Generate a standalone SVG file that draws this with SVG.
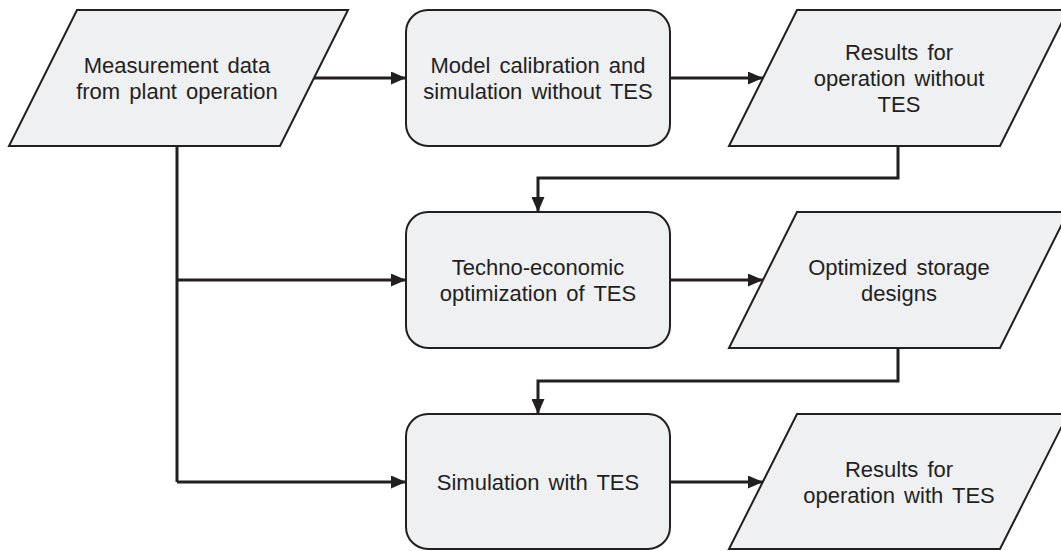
<svg xmlns="http://www.w3.org/2000/svg" width="1061" height="551" viewBox="0 0 1061 551">
<style>
.shape{fill:#eff0f2;stroke:#231f20;stroke-width:2}
.lbl{font-family:"Liberation Sans",Arial,sans-serif;font-size:22px;word-spacing:3px;fill:#231f20;text-anchor:middle}
.conn{fill:none;stroke:#231f20;stroke-width:3;marker-end:url(#arr)}
.trunk{fill:none;stroke:#231f20;stroke-width:3}
</style>
<defs>
<marker id="arr" markerUnits="userSpaceOnUse" markerWidth="15" markerHeight="13" refX="15" refY="6.5" orient="auto">
<path d="M0,0 L15,6.5 L0,13 z" fill="#231f20"/>
</marker>
</defs>
<rect width="1061" height="551" fill="#ffffff"/>
<g id="connectors">
<path class="conn" d="M313,78 H406"/>
<path class="conn" d="M670,78 H763"/>
<path class="trunk" d="M177,146 V482"/>
<path class="conn" d="M177,280 H406"/>
<path class="conn" d="M177,482 H406"/>
<path class="conn" d="M670,280 H763"/>
<path class="conn" d="M670,482 H763"/>
<path class="conn" d="M898,146 V178 H538 V212"/>
<path class="conn" d="M898,348 V381 H538 V414"/>
</g>
<g id="measurement">
<polygon class="shape" points="77,10 348,10 280,146 9,146"/>
<text class="lbl" x="177" y="73">Measurement data</text>
<text class="lbl" x="177" y="99">from plant operation</text>
</g>
<g id="calibration">
<rect class="shape" x="406" y="10" width="264" height="136" rx="22" ry="22"/>
<text class="lbl" x="538" y="73">Model calibration and</text>
<text class="lbl" x="538" y="99">simulation without TES</text>
</g>
<g id="results-without">
<polygon class="shape" points="797,10 1068,10 1000,146 729,146"/>
<text class="lbl" x="899" y="60">Results for</text>
<text class="lbl" x="899" y="86">operation without</text>
<text class="lbl" x="899" y="112">TES</text>
</g>
<g id="optimization">
<rect class="shape" x="406" y="212" width="264" height="136" rx="22" ry="22"/>
<text class="lbl" x="538" y="275">Techno-economic</text>
<text class="lbl" x="538" y="301">optimization of TES</text>
</g>
<g id="designs">
<polygon class="shape" points="797,212 1068,212 1000,348 729,348"/>
<text class="lbl" x="899" y="275">Optimized storage</text>
<text class="lbl" x="899" y="301">designs</text>
</g>
<g id="simulation">
<rect class="shape" x="406" y="414" width="264" height="135" rx="22" ry="22"/>
<text class="lbl" x="538" y="490">Simulation with TES</text>
</g>
<g id="results-with">
<polygon class="shape" points="797,414 1068,414 1000,549 729,549"/>
<text class="lbl" x="899" y="477">Results for</text>
<text class="lbl" x="899" y="503">operation with TES</text>
</g>
</svg>
